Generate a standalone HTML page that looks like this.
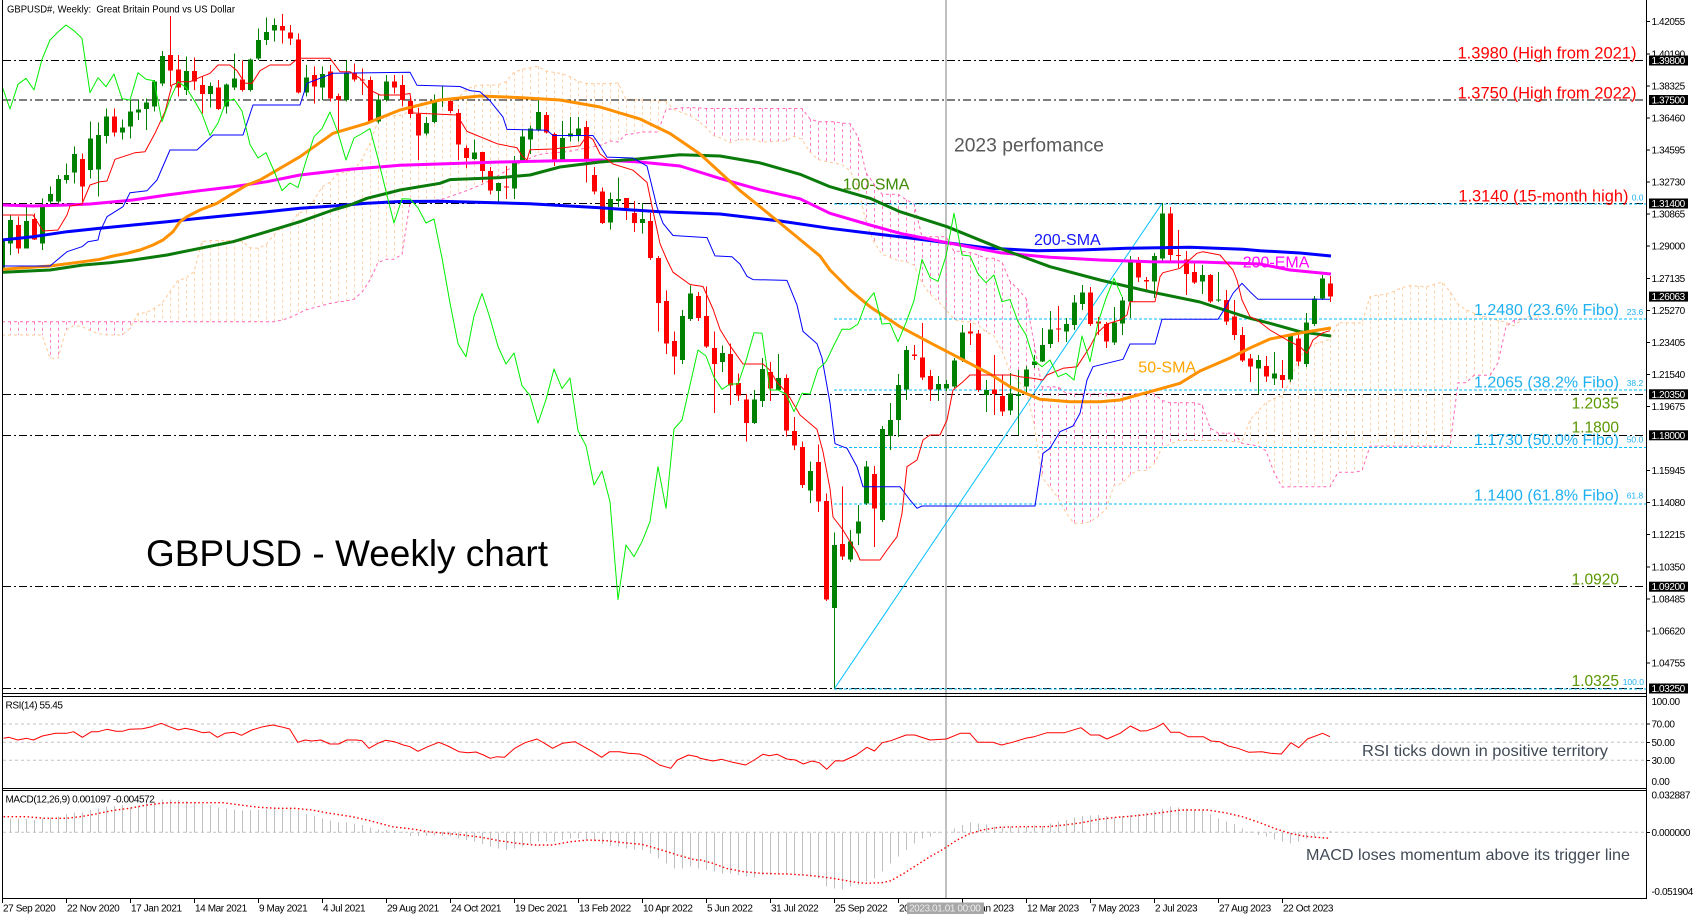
<!DOCTYPE html>
<html><head><meta charset="utf-8">
<style>
html,body{margin:0;padding:0;background:#fff;}
svg{display:block;}
text{font-family:"Liberation Sans",Arial,sans-serif;}
.ax{font-size:10px;letter-spacing:-0.4px;fill:#000;}
.bx{font-size:10px;letter-spacing:-0.4px;fill:#fff;}
.red{font-size:16.4px;fill:#ff0000;}
.cy{font-size:16px;fill:#1fb0f0;}
.cys{font-size:8.5px;fill:#1fb0f0;}
.gr{font-size:15.5px;fill:#5a9600;}
.ma{font-size:16px;}
.ann{font-size:16px;fill:#404a56;}
</style></head><body>
<svg id="c" width="1699" height="919" viewBox="0 0 1699 919" xmlns="http://www.w3.org/2000/svg">
<defs>
<clipPath id="cm"><rect x="3" y="0" width="1643" height="693"/></clipPath>
<clipPath id="cr"><rect x="3" y="697" width="1643" height="91"/></clipPath>
<clipPath id="cd"><rect x="3" y="791" width="1643" height="107"/></clipPath>
</defs>
<rect width="1699" height="919" fill="#fff"/>
<line x1="946" y1="0" x2="946" y2="898" stroke="#c0c0c0" stroke-width="2"/>
<g id="gmain" clip-path="url(#cm)"></g>
<g id="grsi" clip-path="url(#cr)"></g>
<g id="gmacd" clip-path="url(#cd)"></g>

<g stroke="#000" stroke-width="1" shape-rendering="crispEdges" fill="none">
<line x1="2.5" y1="0" x2="2.5" y2="898.5"/>
<line x1="1646.5" y1="0" x2="1646.5" y2="898.5"/>
<line x1="2" y1="693.5" x2="1647" y2="693.5"/>
<line x1="2" y1="696.5" x2="1647" y2="696.5"/>
<line x1="2" y1="788.5" x2="1647" y2="788.5"/>
<line x1="2" y1="790.5" x2="1647" y2="790.5"/>
<line x1="2" y1="898.5" x2="1647" y2="898.5"/>
</g>

<text x="7" y="12.7" font-size="10" textLength="228" lengthAdjust="spacingAndGlyphs" style="white-space:pre">GBPUSD#, Weekly:  Great Britain Pound vs US Dollar</text>
<text x="146" y="566" font-size="37" textLength="402" lengthAdjust="spacingAndGlyphs" fill="#000">GBPUSD - Weekly chart</text>
<text x="954" y="151.7" font-size="19" textLength="150" lengthAdjust="spacingAndGlyphs" fill="#595959">2023 perfomance</text>
<text class="ma" x="842.7" y="189.3" fill="#3d8b00">100-SMA</text>
<text class="ma" x="1034" y="245" fill="#1414ff">200-SMA</text>
<text class="ma" x="1242.7" y="267.3" fill="#ff00ff">200-EMA</text>
<text class="ma" x="1138.3" y="372.3" fill="#ffa500">50-SMA</text>

<text class="red" x="1457.5" y="58.5" textLength="179" lengthAdjust="spacingAndGlyphs">1.3980 (High from 2021)</text>
<text class="red" x="1457.5" y="98.3" textLength="179" lengthAdjust="spacingAndGlyphs">1.3750 (High from 2022)</text>
<text class="red" x="1458.4" y="201.5" textLength="170" lengthAdjust="spacingAndGlyphs">1.3140 (15-month high)</text>

<text class="cy" x="1474" y="315" textLength="145" lengthAdjust="spacingAndGlyphs">1.2480 (23.6% Fibo)</text>
<text class="cy" x="1474" y="387.3" textLength="145" lengthAdjust="spacingAndGlyphs">1.2065 (38.2% Fibo)</text>
<text class="cy" x="1474" y="445" textLength="145" lengthAdjust="spacingAndGlyphs">1.1730 (50.0% Fibo)</text>
<text class="cy" x="1474" y="500.7" textLength="145" lengthAdjust="spacingAndGlyphs">1.1400 (61.8% Fibo)</text>

<text class="cys" x="1631.7" y="200.5">0.0</text>
<text class="cys" x="1626.7" y="315">23.6</text>
<text class="cys" x="1626.7" y="386">38.2</text>
<text class="cys" x="1626.7" y="442.7">50.0</text>
<text class="cys" x="1626.7" y="498.7">61.8</text>
<text class="cys" x="1622.7" y="685">100.0</text>

<text class="gr" x="1619" y="408.3" text-anchor="end">1.2035</text>
<text class="gr" x="1619" y="432.7" text-anchor="end">1.1800</text>
<text class="gr" x="1619" y="584.5" text-anchor="end">1.0920</text>
<text class="gr" x="1619" y="686" text-anchor="end">1.0325</text>

<text class="ann" x="1362" y="756" textLength="246" lengthAdjust="spacingAndGlyphs">RSI ticks down in positive territory</text>
<text class="ann" x="1306" y="860" textLength="324" lengthAdjust="spacingAndGlyphs">MACD loses momentum above its trigger line</text>

<text class="ax" x="5.5" y="708.3">RSI(14) 55.45</text>
<text class="ax" x="5.5" y="802.7">MACD(12,26,9) 0.001097 -0.004572</text>

<g stroke="#000" stroke-width="1" shape-rendering="crispEdges">
<line x1="1646" y1="21.7" x2="1650" y2="21.7"/><line x1="1646" y1="53.8" x2="1650" y2="53.8"/>
<line x1="1646" y1="85.8" x2="1650" y2="85.8"/><line x1="1646" y1="117.9" x2="1650" y2="117.9"/>
<line x1="1646" y1="150" x2="1650" y2="150"/><line x1="1646" y1="182.1" x2="1650" y2="182.1"/>
<line x1="1646" y1="214.2" x2="1650" y2="214.2"/><line x1="1646" y1="246.2" x2="1650" y2="246.2"/>
<line x1="1646" y1="278.3" x2="1650" y2="278.3"/><line x1="1646" y1="310.3" x2="1650" y2="310.3"/>
<line x1="1646" y1="342.4" x2="1650" y2="342.4"/><line x1="1646" y1="374.4" x2="1650" y2="374.4"/>
<line x1="1646" y1="406.5" x2="1650" y2="406.5"/><line x1="1646" y1="470.6" x2="1650" y2="470.6"/>
<line x1="1646" y1="502.7" x2="1650" y2="502.7"/><line x1="1646" y1="534.7" x2="1650" y2="534.7"/>
<line x1="1646" y1="566.8" x2="1650" y2="566.8"/><line x1="1646" y1="598.8" x2="1650" y2="598.8"/>
<line x1="1646" y1="630.9" x2="1650" y2="630.9"/><line x1="1646" y1="662.9" x2="1650" y2="662.9"/>
<line x1="1646" y1="724" x2="1650" y2="724"/><line x1="1646" y1="742.3" x2="1650" y2="742.3"/>
<line x1="1646" y1="760.3" x2="1650" y2="760.3"/><line x1="1646" y1="832.3" x2="1650" y2="832.3"/>
</g>
<text class="ax" x="1651.5" y="25.2">1.42055</text>
<text class="ax" x="1651.5" y="57.3">1.40190</text>
<text class="ax" x="1651.5" y="89.3">1.38325</text>
<text class="ax" x="1651.5" y="121.4">1.36460</text>
<text class="ax" x="1651.5" y="153.5">1.34595</text>
<text class="ax" x="1651.5" y="185.6">1.32730</text>
<text class="ax" x="1651.5" y="217.7">1.30865</text>
<text class="ax" x="1651.5" y="249.7">1.29000</text>
<text class="ax" x="1651.5" y="281.8">1.27135</text>
<text class="ax" x="1651.5" y="313.8">1.25270</text>
<text class="ax" x="1651.5" y="345.9">1.23405</text>
<text class="ax" x="1651.5" y="377.9">1.21540</text>
<text class="ax" x="1651.5" y="410">1.19675</text>
<text class="ax" x="1651.5" y="474.1">1.15945</text>
<text class="ax" x="1651.5" y="506.2">1.14080</text>
<text class="ax" x="1651.5" y="538.2">1.12215</text>
<text class="ax" x="1651.5" y="570.3">1.10350</text>
<text class="ax" x="1651.5" y="602.3">1.08485</text>
<text class="ax" x="1651.5" y="634.4">1.06620</text>
<text class="ax" x="1651.5" y="666.4">1.04755</text>

<g fill="#000">
<rect x="1649" y="55.5" width="39" height="10"/>
<rect x="1649" y="95" width="39" height="10"/>
<rect x="1649" y="198.5" width="39" height="10"/>
<rect x="1649" y="291.6" width="39" height="10"/>
<rect x="1649" y="389.3" width="39" height="10"/>
<rect x="1649" y="430.3" width="39" height="10"/>
<rect x="1649" y="581.7" width="39" height="10"/>
<rect x="1649" y="683.5" width="39" height="10"/>
</g>
<text class="bx" x="1651.5" y="64">1.39800</text>
<text class="bx" x="1651.5" y="103.5">1.37500</text>
<text class="bx" x="1651.5" y="207">1.31400</text>
<text class="bx" x="1651.5" y="300.1">1.26063</text>
<text class="bx" x="1651.5" y="397.8">1.20350</text>
<text class="bx" x="1651.5" y="438.8">1.18000</text>
<text class="bx" x="1651.5" y="590.2">1.09200</text>
<text class="bx" x="1651.5" y="692">1.03250</text>

<text class="ax" x="1651.5" y="705">100.00</text>
<text class="ax" x="1651.5" y="727.5">70.00</text>
<text class="ax" x="1651.5" y="745.8">50.00</text>
<text class="ax" x="1651.5" y="763.8">30.00</text>
<text class="ax" x="1651.5" y="785">0.00</text>
<text class="ax" x="1651.5" y="798.5">0.032887</text>
<text class="ax" x="1651.5" y="835.8">0.000000</text>
<text class="ax" x="1651.5" y="895">-0.051904</text>

<g stroke="#000" stroke-width="1" shape-rendering="crispEdges">
<line x1="2.5" y1="898" x2="2.5" y2="903"/><line x1="66.5" y1="898" x2="66.5" y2="903"/>
<line x1="130.5" y1="898" x2="130.5" y2="903"/><line x1="194.5" y1="898" x2="194.5" y2="903"/>
<line x1="258.5" y1="898" x2="258.5" y2="903"/><line x1="322.5" y1="898" x2="322.5" y2="903"/>
<line x1="386.5" y1="898" x2="386.5" y2="903"/><line x1="450.5" y1="898" x2="450.5" y2="903"/>
<line x1="514.5" y1="898" x2="514.5" y2="903"/><line x1="578.5" y1="898" x2="578.5" y2="903"/>
<line x1="642.5" y1="898" x2="642.5" y2="903"/><line x1="706.5" y1="898" x2="706.5" y2="903"/>
<line x1="770.5" y1="898" x2="770.5" y2="903"/><line x1="834.5" y1="898" x2="834.5" y2="903"/>
<line x1="898.5" y1="898" x2="898.5" y2="903"/><line x1="962.5" y1="898" x2="962.5" y2="903"/>
<line x1="1026.5" y1="898" x2="1026.5" y2="903"/><line x1="1090.5" y1="898" x2="1090.5" y2="903"/>
<line x1="1154.5" y1="898" x2="1154.5" y2="903"/><line x1="1218.5" y1="898" x2="1218.5" y2="903"/>
<line x1="1282.5" y1="898" x2="1282.5" y2="903"/>
</g>
<text class="ax" x="3" y="911.5">27 Sep 2020</text>
<text class="ax" x="67" y="911.5">22 Nov 2020</text>
<text class="ax" x="131" y="911.5">17 Jan 2021</text>
<text class="ax" x="195" y="911.5">14 Mar 2021</text>
<text class="ax" x="259" y="911.5">9 May 2021</text>
<text class="ax" x="323" y="911.5">4 Jul 2021</text>
<text class="ax" x="387" y="911.5">29 Aug 2021</text>
<text class="ax" x="451" y="911.5">24 Oct 2021</text>
<text class="ax" x="515" y="911.5">19 Dec 2021</text>
<text class="ax" x="579" y="911.5">13 Feb 2022</text>
<text class="ax" x="643" y="911.5">10 Apr 2022</text>
<text class="ax" x="707" y="911.5">5 Jun 2022</text>
<text class="ax" x="771" y="911.5">31 Jul 2022</text>
<text class="ax" x="835" y="911.5">25 Sep 2022</text>
<text class="ax" x="899" y="911.5">20 Nov 2022</text>
<text class="ax" x="963" y="911.5">15 Jan 2023</text>
<text class="ax" x="1027" y="911.5">12 Mar 2023</text>
<text class="ax" x="1091" y="911.5">7 May 2023</text>
<text class="ax" x="1155" y="911.5">2 Jul 2023</text>
<text class="ax" x="1219" y="911.5">27 Aug 2023</text>
<text class="ax" x="1283" y="911.5">22 Oct 2023</text>
<rect x="907" y="902.5" width="77" height="11.5" fill="#a8a8a8"/>
<text x="909" y="911.7" font-size="10" letter-spacing="-0.4" fill="#ececec">2023.01.01 00:00</text>
</svg>
<script>
(function(){
var NS='http://www.w3.org/2000/svg';
function el(p,t,a){var e=document.createElementNS(NS,t);for(var k in a)e.setAttribute(k,a[k]);p.appendChild(e);return e;}
function pts(a){return a.map(function(p){return p[0].toFixed(1)+','+p[1].toFixed(1);}).join(' ');}
function pl(p,a,at){at.points=pts(a);at.fill='none';at['stroke-linejoin']='round';return el(p,'polyline',at);}
function ip(a,x){if(x<=a[0][0])return a[0][1];for(var i=1;i<a.length;i++){if(x<=a[i][0]){var p=a[i-1],q=a[i];return p[1]+(q[1]-p[1])*(x-p[0])/(q[0]-p[0]);}}return a[a.length-1][1];}
function X(w){return 2+8*w;}
var M=document.getElementById('gmain'),R=document.getElementById('grsi'),D=document.getElementById('gmacd');

var C=[
[240,268,238,270,1],[220,243.3,215,255,1],[225,248.3,216.7,253.3,0],[221,248.3,206.7,248.3,1],[219,239.3,213.3,240,0],
[206.7,243.3,198.3,250,1],[194,201.7,186.7,205,1],[179,201.7,175,203.3,1],[175,180,163.3,183.3,1],[154,172.7,146.7,183.3,1],
[159,186.7,153.3,201.7,0],[138.3,170,121.7,178.3,1],[135,169.3,122.7,196.7,1],[116.7,136,108.3,143.3,1],[116.7,132.7,108.3,136.7,0],
[127.7,132.7,119.3,139.3,1],[111.7,126.7,100,138.3,1],[109.3,112.3,100,120,1],[102.7,109,98.3,130,1],[81.7,106.7,80,111.7,1],
[56,83.3,51,86,1],[55,70.7,16,86.7,0],[69.3,87.3,55,96.7,0],[71,90,56.7,95,1],[71,81.7,57.3,90,0],
[85,94,76.7,113.3,0],[86,94,82.7,107.3,1],[87.3,109,80,110,0],[84.3,106.7,83.3,113.3,1],[78.3,87.3,53.3,90,1],
[79.3,90,60.7,91.7,0],[59.3,90,58.3,91.7,1],[40,58.3,28.3,60,1],[32,40,17.3,45,1],[25,30.7,18.3,41.7,1],
[26,30.7,14,43.3,0],[32.3,38.3,25,45,0],[39.3,92.7,33.3,93.3,0],[77.7,92.7,65,96.7,1],[75,86.7,66.7,103.3,0],
[74,87.3,66.7,100,1],[71.7,98.7,65,101.7,0],[96,100,93.3,131.7,0],[72.7,100,60.7,101.7,1],[73.3,79.3,63.3,81.7,0],
[79.3,80.7,68.3,95,0],[80,121.7,76.7,123.3,0],[99.3,121.7,94.3,123.3,1],[81.7,100,75,101.7,1],[81.7,87.3,75,93.3,0],
[85,100,75,106.7,0],[101,114,96.7,118,0],[114,135.5,108,160,0],[123,133.5,117,135.5,1],[101.6,122,94.7,123.3,1],
[99,101,85.3,107,1],[101,111,97.6,113,0],[113,144.5,109,160,0],[148,158,145.7,168,0],[152.7,158.8,139.6,160,1],
[152,171,152,182.4,0],[171,190.6,167,194.7,0],[183,191,182.4,202.9,1],[186.5,187.5,166,198.8,0],[161,188.6,156,198.8,1],
[136.7,161,129.4,162,1],[128.6,139.6,125.3,153.9,1],[112,130,98.8,131.4,1],[115,132.6,112.2,133.5,0],[134,160,132.6,166,0],
[138,160,121.2,162,1],[133.5,136.7,117,141.6,1],[128.6,135.5,117,141.6,1],[127,158.8,121.2,182.4,0],[175,191.4,167,194.7,0],
[191.4,223,187.3,224,0],[198.8,222.4,192.7,229.4,1],[199,201,177.6,207,1],[198,207.8,198,220,0],[213,223,200.8,232.2,0],
[219,223,202.9,233.5,1],[221,258,213,260,0],[258,303,256,331.4,0],[301,343.7,290.6,353.9,0],[340.8,356.7,331.4,374.3,0],
[316,360,309.8,364,1],[293.5,319,285.3,321,1],[296,318,291.8,321,0],[316,346.5,286.5,347.8,0],[347.8,364,331.4,413,0],
[353,362,345.7,372.2,1],[354,385.7,343.7,405,0],[383,395.5,373.5,400.8,0],[399.6,423,393.9,441.6,0],[399.6,423,389.8,424,1],
[369,401,358,407,1],[372,388.6,362,400.8,0],[378,390,353.9,390.6,1],[378,430.6,374.3,436.3,0],[431,445.7,417,449.8,0],
[447,485,441.6,487.8,0],[471,490.6,461.6,503,1],[462,501.6,444.5,512,0],[501,599.6,493.5,601,0],[545,607.8,532.7,688.6,1],
[544,556.7,486.7,560,0],[541.7,559.3,530,562,1],[521.7,533.3,505,545,1],[466.7,503.3,461,505,1],[474,508.3,466,547,0],
[429,520,426,522,1],[420,436,403,450,1],[385,420,374,437,1],[350,389.3,346,400,1],[354.3,356,345,360,0],
[357.3,377.3,323,380,0],[376,389.3,370,401,0],[384,389.3,376,401,1],[384,388.3,380,391,1],[360.7,386.7,358,388,1],
[332.7,360,325,362,1],[331.7,333.3,323,345,0],[333.3,390,330,392,0],[390,395,380,412,1],[389.3,394,355,415,0],
[396,411.7,375,416,0],[393.3,410.7,373,415,1],[394,396,370,435,1],[369.3,386.7,366,395,1],[361.7,365,355,368,1],
[345,361.7,328,362,1],[329.3,344,311,348,1],[328.3,329.3,306,342,0],[324,331.7,318,342,1],[302.7,325,295,330,1],
[292.7,304,285,310,1],[292.7,324,287,326,0],[321.7,323.3,317,335,0],[324,341.7,322,348,0],[322.7,342.7,307,345,1],
[300.7,323.3,297,335,1],[259.3,301.7,256,318,1],[260,277.3,257,282,0],[280,281.3,277,292,0],[256,281.7,253,298,1],
[213.3,258.3,203.6,263,1],[213.3,255,207,262,0],[255,256,230,268,0],[259.3,274,251,295,0],[272,282.7,263,284,0],
[275,281.7,265,294,1],[275,301.7,274,303,0],[299.5,300.5,272,302,1],[300,321.7,290,325,0],[316.7,335,300,340,0],
[335,360.7,327,362,0],[358.3,366.7,354,382,0],[360,368.3,355,394,1],[366,376.7,356,382,0],[373.3,378.3,352,385,1],
[375,380,360,388,0],[336,379.3,334,382,1],[338.3,361.7,335,366,0],[322.7,364,313,367,1],[298.3,324,296,326,1],
[278.3,298.3,275,300,1],[283.3,296.7,276,302,0]];

var T=[[2,215],[33,215],[43,231],[58,230],[67,215],[70,206],[82,204],[90,185],[100,181.7],[107,181],[115,159.3],[135,152.7],[145,151.7],[155,133.3],[165,111.7],[172,85],[180,81.7],[190,81.7],[200,77.3],[210,73.3],[218,65],[230,65],[237,70.7],[245,83.3],[252,83.3],[260,70.7],[270,65],[290,65],[298,58.3],[330,58.3],[340,71.7],[350,71.7],[360,78.3],[370,90],[380,95],[400,95],[410,93.5],[413,113],[457,115],[467,131.4],[497,143.7],[517,147.8],[522,155.9],[527,160],[530,149.8],[553,149],[580,145.7],[587,135.5],[593,139.6],[600,153.9],[613,164],[633,170.2],[647,182.4],[653,211],[660,243.7],[667,260],[673,272.2],[690,284.5],[703,286.5],[713,309],[720,329.4],[730,345.7],[743,364],[763,364],[770,370.2],[777,382.4],[787,392.7],[800,415],[817,429.4],[823,451.8],[830,488.6],[833,517],[843,530],[857,553],[860,560],[880,560],[887,550],[897,536.7],[902,513.3],[907,466.7],[917,460],[923,440],[930,435],[940,435],[947,420],[953,390],[963,381.7],[970,375],[1012,375],[1020,376.7],[1033,378.3],[1043,380],[1047,375],[1063,368.3],[1077,366.7],[1090,346.7],[1097,333.3],[1107,324],[1120,320],[1127,315],[1130,301.7],[1155,301.7],[1160,276.7],[1163,272.7],[1180,268.3],[1197,253.3],[1203,251.7],[1220,255],[1227,263.3],[1233,270],[1237,280],[1242,300],[1250,316.7],[1257,320],[1270,330],[1287,340],[1300,346.7],[1307,353.3],[1313,340],[1323,332.7],[1330,330.7]];

var K=[[2,266],[50,266],[67,251.7],[82,246.7],[88,241.7],[98,240],[100,231.7],[107,216.7],[123,206.7],[130,192.7],[147,190.7],[157,180],[170,150],[197,150],[213,135],[243,135],[253,105],[300,105],[307,83.3],[333,73.3],[410,72.2],[417,85.3],[460,86.5],[470,90.6],[480,91.8],[490,100.8],[503,117.1],[507,129.4],[547,130.2],[553,135.5],[593,135.5],[600,145.7],[607,157.1],[633,158],[647,166.1],[653,190.6],[657,207],[663,223.3],[673,235.5],[707,237.6],[715,255.9],[732,256.7],[740,264.1],[747,276.3],[753,279.6],[787,280.4],[797,304.9],[803,331.4],[817,343.7],[822,358],[830,402.9],[835,443.7],[847,448.3],[857,466.7],[863,486.7],[900,486.7],[910,500],[917,508.3],[922,506],[1035,506],[1040,473.3],[1043,453.3],[1050,448.3],[1060,431.7],[1073,426],[1080,413.3],[1087,380],[1093,366.7],[1123,359.3],[1130,344],[1155,344],[1162,319.3],[1218,319.3],[1225,308.3],[1233,293.3],[1242,283.3],[1250,291.7],[1258,299.3],[1330,299.3]];

var O50=[[2,269.3],[50,266],[83,261.7],[100,259.3],[113,256],[127,253.3],[140,250],[153,245],[163,240],[173,231.7],[180,221.7],[187,216.7],[200,210],[217,203.3],[233,193.3],[247,185],[260,180],[300,156.7],[333,133.3],[367,123.3],[383,116.7],[400,110],[440,100],[480,96],[520,97.6],[560,100],[600,107],[640,119],[670,133.5],[700,154],[740,190.6],[780,223],[820,256],[830,270],[850,290],[870,306.7],[900,326.7],[930,342.7],[960,358.3],[990,374],[1010,386.7],[1040,399.3],[1070,401.7],[1100,401.7],[1120,400],[1150,391.7],[1180,383.3],[1200,371],[1230,358],[1250,348],[1270,339],[1300,333],[1331,328]];
var G100=[[2,272.3],[50,270],[83,265],[110,262.7],[133,260],[167,255],[200,248.3],[233,241.7],[267,231.7],[300,221.7],[333,210],[350,205],[367,198.3],[400,190],[440,183.3],[450,179.6],[500,177.6],[530,175],[560,167],[600,162],[640,158.8],[680,154.7],[720,156],[760,162.9],[800,174.3],[830,186.7],[870,198.3],[900,211.7],[947,226.7],[1000,248.3],[1050,266.7],[1100,280],[1150,291.7],[1200,302],[1250,318.3],[1270,323.3],[1300,331.7],[1331,336]];
var S200=[[2,240],[33,236.7],[67,231.7],[100,228.3],[133,225],[167,221.7],[200,218.3],[233,215],[267,211.7],[300,208.3],[333,206],[367,203.3],[400,201.5],[440,201.3],[530,203.7],[600,207.8],[660,211.8],[720,214],[780,221],[830,228.3],[870,233.3],[900,236.7],[947,242.7],[990,248.3],[1037,250.7],[1080,250],[1127,248.3],[1190,247.3],[1243,249.3],[1260,250.7],[1300,253],[1331,256]];
var E200=[[2,205],[33,206],[67,205],[90,204],[133,200],[167,195],[200,190.7],[233,186.7],[267,181.7],[300,175],[350,169.3],[400,165.3],[500,162],[560,160.8],[600,160],[640,162],[680,166],[720,178.4],[760,189.8],[800,198.8],[830,213.3],[870,225],[900,233.3],[947,242.7],[1000,252.7],[1050,257.3],[1100,260],[1150,261.7],[1200,262],[1260,264],[1290,270],[1331,274]];
var Bread=[[2,321.7],[277,321.7],[293,316.7],[303,310.7],[320,306],[333,302.7],[353,300],[360,295],[370,280],[377,263.3],[383,259.3],[400,259.3],[405,246.7],[408,206.7],[410,202.7],[440,200],[467,190.6],[487,182.4],[517,164.1],[540,153.9],[567,151.8],[587,147.8],[600,145.7],[613,139.6],[620,138]];
var Aread=[[2,335],[43,335],[50,358.3],[58,358.3],[67,326.7],[77,325],[87,328.3],[93,332.7],[107,335],[127,335],[137,313.3],[147,312.7],[157,306.7],[167,300],[173,283.3],[180,279.3],[193,276.7],[200,241.7],[210,241]];

function cB(w){var s=w-26,mn=1e9,mx=-1e9;for(var j=s-51;j<=s;j++){if(j<0||j>166)continue;if(C[j][2]<mn)mn=C[j][2];if(C[j][3]>mx)mx=C[j][3];}return (mn+mx)/2;}

try{
var gk=el(M,'g',{'stroke-width':1,'stroke-dasharray':'3 3'});
var Ap=[],Bp=[];
for(var w=0;w<=192;w++){var x=X(w);
 var A=x<210?ip(Aread,x):(ip(T,x-208)+ip(K,x-208))/2;
 var B=w>=77?cB(w):ip(Bread,x);
 Ap.push([x,A]);Bp.push([x,B]);
 var t=Math.min(A,B),b=Math.max(A,B);
 if(b-t>1)el(gk,'line',{x1:x+0.5,y1:t,x2:x+0.5,y2:b,stroke:(A<B)?'#ffd6ae':'#ff80c4'});}
pl(M,Ap,{stroke:'#ffc896','stroke-dasharray':'3 3','stroke-width':1});
pl(M,Bp,{stroke:'#ff66b2','stroke-dasharray':'3 3','stroke-width':1});
}catch(e){}

try{
var gh=el(M,'g',{'shape-rendering':'crispEdges'});
[60.5,100,203.5,394.3,435.3,586.7,688.5].forEach(function(y){el(gh,'line',{x1:3,y1:y,x2:1646,y2:y,stroke:'#000','stroke-width':1,'stroke-dasharray':'8 3 2 3'});});
[203.5,318.3,389.5,447,503.5,688.5].forEach(function(y){el(gh,'line',{x1:834,y1:y+0.6,x2:1646,y2:y+0.6,stroke:'#00bfff','stroke-width':1,'stroke-dasharray':'3 2'});});
el(M,'line',{x1:834.5,y1:688.5,x2:1162,y2:203.5,stroke:'#00bfff','stroke-width':1});
}catch(e){}

try{
var gc=el(M,'g',{'shape-rendering':'crispEdges'});
C.forEach(function(c,i){var x=X(i),col=c[4]?'#008000':'#ff0000';
 el(gc,'rect',{x:x,y:c[2],width:1,height:Math.max(1,c[3]-c[2]),fill:col});
 el(gc,'rect',{x:x-2,y:c[0],width:5,height:Math.max(1,c[1]-c[0]),fill:col});});
}catch(e){}

try{
pl(M,S200,{stroke:'#0000ff','stroke-width':3});
pl(M,E200,{stroke:'#ff00ff','stroke-width':3});
pl(M,G100,{stroke:'#0a7a0a','stroke-width':3});
pl(M,O50,{stroke:'#ff9000','stroke-width':3});
pl(M,K,{stroke:'#0000ff','stroke-width':1});
pl(M,T,{stroke:'#ff0000','stroke-width':1});
var Ch=[];for(var w2=0;w2<=140;w2++){var cc=C[w2+26];Ch.push([X(w2),cc[4]?cc[0]:cc[1]]);}
pl(M,Ch,{stroke:'#00ee00','stroke-width':1});
}catch(e){}

try{
[724,742.3,760.3].forEach(function(y){el(R,'line',{x1:3,y1:y,x2:1646,y2:y,stroke:'#c0c0c0','stroke-width':1,'stroke-dasharray':'3 3'});});
var r11=[[8,145],[20,142],[40,150],[60,145],[75,150],[95,138],[125,130],[150,130],[165,125],[185,142],[205,125],[220,125],[240,118],[260,124],[275,124],[290,118],[320,116],[340,110],[362,100],[380,110],[400,120],[415,115],[435,120],[455,128],[470,126],[488,142],[505,130],[525,127],[542,136],[565,120],[590,110],[612,105],[630,110],[650,117],[668,157],[685,150],[700,153],[720,150],[740,162],[760,162],[778,150],[800,150],[812,152],[828,175],[848,160],[865,151],[885,155],[905,165],[920,170],[938,184],[960,170],[985,157],[1005,168],[1030,185],[1050,188],[1068,186],[1085,195],[1100,205],[1115,200],[1132,202],[1155,175],[1178,158],[1205,147],[1222,160],[1240,175],[1262,160],[1290,155],[1310,170],[1330,185],[1350,202],[1368,185],[1390,185],[1410,190],[1435,192],[1450,200],[1465,212],[1480,225],[1505,235],[1520,210],[1545,195],[1565,200]];
var r12=[[0,205],[30,213],[50,208],[70,215],[105,225],[125,210],[145,193],[160,197],[178,193],[200,207],[220,210],[238,222],[258,213],[275,218],[292,238],[312,212],[330,213],[360,195],[385,172],[402,183],[420,158],[440,152],[475,135],[495,135],[530,150],[568,147],[600,130],[622,130],[640,157],[675,157],[695,165],[720,157],[750,145],[770,140],[800,128],[840,128],[878,113],[900,135],[920,135],[938,147],[968,130],[992,108],[1015,123],[1030,122],[1050,113],[1068,100],[1085,127],[1105,127],[1125,140],[1160,140],[1178,153],[1198,155],[1218,168],[1240,175],[1265,187],[1295,185],[1315,190],[1340,192],[1362,158],[1380,173],[1400,147],[1435,130],[1452,140]];
var RS=r11.map(function(p){return [p[0]/2.244,690+p[1]/3];}).concat(r12.map(function(p){return [700+p[0]/2.305,690+p[1]/3];}));
pl(R,RS,{stroke:'#ff0000','stroke-width':1});
}catch(e){}

try{
el(D,'line',{x1:3,y1:832.3,x2:1646,y2:832.3,stroke:'#c0c0c0','stroke-width':1,'stroke-dasharray':'3 3'});
var H=[385,385,385,387,390,385,383,380,372,368,368,360,355,350,348,345,352,350,332,335,328,328,330,333,338,342,345,352,356,358,362,360,358,358,355,355,355,360,372,378,385,392,398,398,402,405,412,418,420,420,425,438,438,438,436,438,440,445,450,455,462,470,475,480,475,470,460,455,455,455,450,446,446,450,455,462,468,470,475,478,480,490,505,520,535,535,530,535,
540,545,550,550,555,560,562,555,555,550,550,552,555,560,565,590,595,598,590,585,575,565,545,520,500,480,460,445,440,430,
425,415,405,398,400,403,410,412,410,412,410,406,408,400,395,390,382,378,376,375,378,382,378,375,372,368,362,355,350,352,355,360,362,373,385,395,402,415,424,
435,440,448,455,460,455,445,440,430,423];
var gb=el(D,'g',{stroke:'#c0c0c0','stroke-width':1,'shape-rendering':'crispEdges'});
H.forEach(function(v,i){var y=690+v/3;el(gb,'line',{x1:X(i)+0.5,y1:832.3,x2:X(i)+0.5,y2:y});});
var s11=[[8,380],[60,380],[100,385],[150,385],[180,380],[215,372],[250,362],[290,355],[330,345],[360,340],[380,338],[500,338],[540,345],[580,352],[620,355],[660,355],[700,360],[740,370],[790,380],[830,392],[880,410],[930,418],[960,425],[1000,430],[1040,435],[1080,442],[1120,452],[1160,460],[1200,465],[1240,465],[1280,455],[1320,450],[1360,452],[1400,458],[1440,463],[1480,478],[1520,495],[1560,510]];
var s12=[[0,510],[30,520],[60,535],[100,545],[140,550],[200,552],[240,555],[280,560],[320,568],[350,575],[380,580],[420,578],[440,572],[470,550],[500,525],[530,500],[560,478],[590,452],[620,432],[650,420],[690,412],[740,410],[800,410],[840,405],[880,398],[920,388],[960,382],[1000,378],[1040,372],[1080,365],[1110,360],[1170,360],[1210,368],[1250,380],[1290,398],[1330,418],[1360,430],[1390,438],[1420,442],[1452,445]];
var SG=s11.map(function(p){return [p[0]/2.244,690+p[1]/3];}).concat(s12.map(function(p){return [700+p[0]/2.305,690+p[1]/3];}));
pl(D,SG,{stroke:'#ff0000','stroke-width':1.4,'stroke-dasharray':'1.5 2.5'});
}catch(e){}
})();
</script>
</body></html>
